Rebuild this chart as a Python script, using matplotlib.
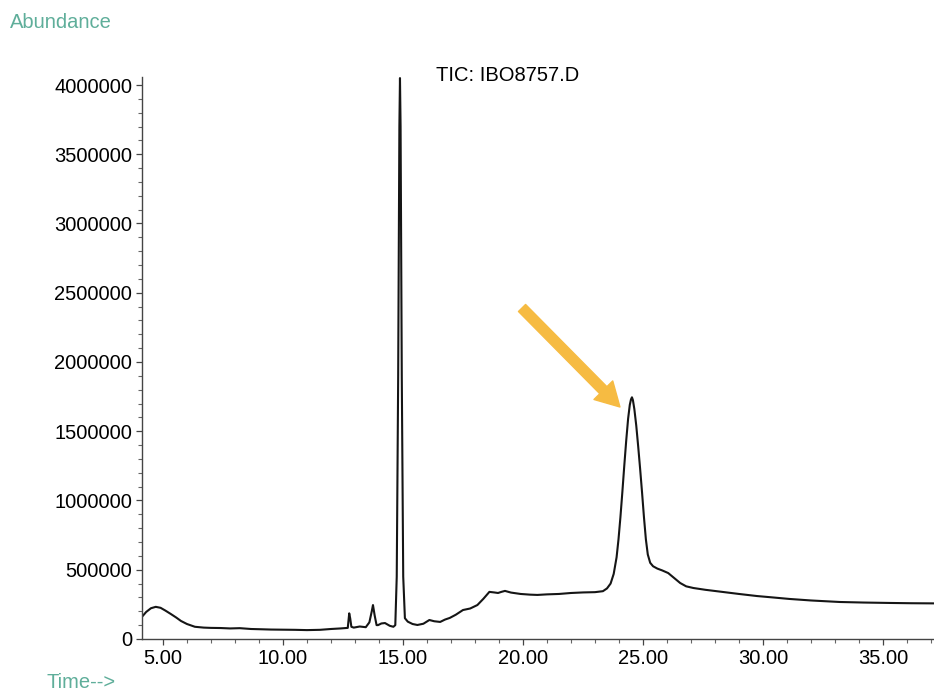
import matplotlib
matplotlib.use('Agg')
import matplotlib.pyplot as plt
from matplotlib.ticker import MultipleLocator, FormatStrFormatter

plt.rcParams['font.family'] = ['Liberation Sans', 'DejaVu Sans']

# время удерживания (мин) и сигнал TIC
time = [4.125, 4.3, 4.5, 4.7, 4.9, 5.1, 5.33, 5.55, 5.75, 6.0, 6.33, 6.7, 7.0, 7.4,
        7.8, 8.2, 8.67, 9.1, 9.5, 10.0, 10.5, 11.0, 11.54, 12.0, 12.4, 12.7, 12.76,
        12.8, 12.85, 12.95, 13.2, 13.45, 13.6, 13.7, 13.75, 13.82, 13.9, 13.96, 14.1,
        14.25, 14.45, 14.6, 14.68, 14.74, 14.8, 14.85, 14.875, 14.9, 14.95, 15.01,
        15.08, 15.2, 15.4, 15.6, 15.85, 16.1, 16.3, 16.55, 16.75, 16.95, 17.2, 17.5,
        17.8, 18.1, 18.35, 18.6, 18.8, 18.96, 19.1, 19.25, 19.5, 19.9, 20.3, 20.6,
        21.0, 21.5, 22.0, 22.5, 23.0, 23.33, 23.5, 23.65, 23.78, 23.9, 23.98, 24.06,
        24.14, 24.22, 24.3, 24.38, 24.45, 24.5, 24.54, 24.58, 24.64, 24.72, 24.8,
        24.88, 24.96, 25.04, 25.12, 25.2, 25.3, 25.42, 25.6, 25.8, 26.05, 26.3, 26.55,
        26.8, 27.1, 27.6, 28.3, 29.0, 29.75, 30.4, 31.1, 32.0, 33.2, 34.2, 35.3, 36.2,
        37.125]
abundance = [160000, 195000, 222000, 232000, 225000, 205000, 180000, 155000, 130000,
             108000, 88000, 82000, 80000, 79000, 76000, 78000, 72000, 70000, 68000,
             67000, 66000, 64000, 66000, 72000, 76000, 80000, 185000, 150000, 88000,
             82000, 90000, 85000, 120000, 200000, 245000, 170000, 100000, 100000,
             112000, 115000, 95000, 88000, 100000, 450000, 1900000, 3700000, 4050000,
             3700000, 1900000, 450000, 150000, 125000, 108000, 101000, 110000, 137000,
             128000, 123000, 140000, 152000, 175000, 209000, 220000, 245000, 290000,
             340000, 336000, 332000, 340000, 347000, 335000, 325000, 320000, 318000,
             322000, 325000, 332000, 336000, 338000, 345000, 365000, 400000, 470000,
             590000, 720000, 880000, 1060000, 1250000, 1430000, 1590000, 1690000,
             1730000, 1745000, 1725000, 1660000, 1540000, 1390000, 1230000, 1060000,
             880000, 720000, 610000, 550000, 525000, 508000, 495000, 476000, 440000,
             404000, 380000, 368000, 355000, 340000, 325000, 310000, 300000, 289000,
             278000, 267000, 263000, 260000, 258000, 257000]

teal = '#5fae9a'

fig = plt.figure(figsize=(9.34, 6.91), dpi=100)
ax = fig.add_axes([0.152, 0.0753, 0.848, 0.8133])

ax.plot(time, abundance, color='#151515', lw=1.5)

ax.set_xlim(4.125, 37.125)
ax.set_ylim(0, 4058000)

ax.xaxis.set_major_locator(MultipleLocator(5))
ax.xaxis.set_minor_locator(MultipleLocator(1))
ax.xaxis.set_major_formatter(FormatStrFormatter('%.2f'))
ax.yaxis.set_major_locator(MultipleLocator(500000))
ax.yaxis.set_minor_locator(MultipleLocator(100000))
ax.yaxis.set_major_formatter(FormatStrFormatter('%d'))

ax.spines['top'].set_visible(False)
ax.spines['right'].set_visible(False)
for s in ('left', 'bottom'):
    ax.spines[s].set_color('#444444')
    ax.spines[s].set_linewidth(1.0)
ax.tick_params(which='major', direction='out', length=4, width=0.9,
               color='#444444', labelsize=14.5, pad=3)
ax.tick_params(which='minor', direction='out', length=3, width=0.8, color='#666666')

fig.text(0.544, 0.891, 'TIC: IBO8757.D', ha='center', va='center', fontsize=14.5)
fig.text(0.011, 0.968, 'Abundance', ha='left', va='center', fontsize=14.5, color=teal)
fig.text(0.05, 0.013, 'Time-->', ha='left', va='center', fontsize=14.5, color=teal)

# стрелка на пик ~24.5 мин
ax.annotate('', xy=(24.04, 1675000), xytext=(19.96, 2390000),
            arrowprops=dict(arrowstyle='simple,head_width=1.9,head_length=1.7,tail_width=0.72',
                            mutation_scale=10, color='#f6bb42', shrinkA=0, shrinkB=0))

fig.savefig('out.png', dpi=100)
